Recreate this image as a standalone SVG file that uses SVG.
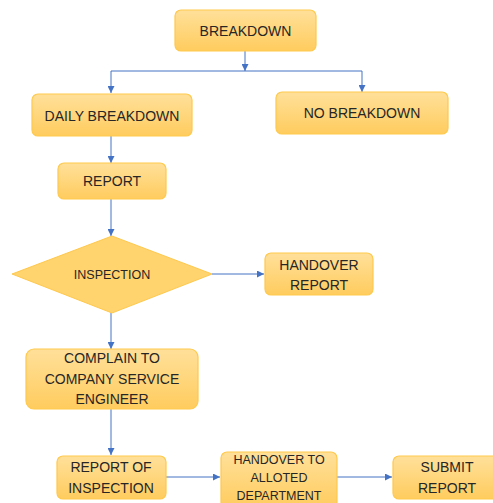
<svg xmlns="http://www.w3.org/2000/svg" width="493" height="503" viewBox="0 0 493 503">
<defs>
<linearGradient id="g" x1="0" y1="0" x2="0" y2="1">
<stop offset="0" stop-color="#FFE09A"/>
<stop offset="1" stop-color="#FFCC5E"/>
</linearGradient>
<marker id="ah" viewBox="0 0 10 10" refX="10" refY="5" markerWidth="7" markerHeight="7" markerUnits="userSpaceOnUse" orient="auto">
<path d="M0,0 L10,5 L0,10 z" fill="#4472C4"/>
</marker>
<style>
.box{fill:url(#g);stroke:#FFC94D;stroke-width:1.2}
.t{font-family:"Liberation Sans",Arial,sans-serif;font-size:14px;fill:#262626;text-anchor:middle}
.c{fill:none;stroke:#4472C4;stroke-width:1}
</style>
</defs>
<rect width="493" height="503" fill="#ffffff"/>
<g id="connectors">
<path class="c" d="M245,51 V71" marker-end="url(#ah)"/>
<path class="c" d="M111,71 H362"/>
<path class="c" d="M111,71 V93" marker-end="url(#ah)"/>
<path class="c" d="M362,71 V92" marker-end="url(#ah)"/>
<path class="c" d="M111,136 V163" marker-end="url(#ah)"/>
<path class="c" d="M111,199 V236" marker-end="url(#ah)"/>
<path class="c" d="M212,274 H264" marker-end="url(#ah)"/>
<path class="c" d="M111,313 V349" marker-end="url(#ah)"/>
<path class="c" d="M111,409 V455" marker-end="url(#ah)"/>
<path class="c" d="M166,477 H220" marker-end="url(#ah)"/>
<path class="c" d="M337,477 H392" marker-end="url(#ah)"/>
</g>
<g id="breakdown">
<rect class="box" x="175" y="10" width="141" height="41" rx="6"/>
<text class="t" x="245.5" y="36">BREAKDOWN</text>
</g>
<g id="daily-breakdown">
<rect class="box" x="32" y="94" width="160" height="42" rx="6"/>
<text class="t" x="112" y="121">DAILY BREAKDOWN</text>
</g>
<g id="no-breakdown">
<rect class="box" x="276" y="92" width="172" height="42" rx="6"/>
<text class="t" x="362" y="118">NO BREAKDOWN</text>
</g>
<g id="report">
<rect class="box" x="58" y="163" width="108" height="36" rx="6"/>
<text class="t" x="112" y="186">REPORT</text>
</g>
<g id="inspection">
<polygon points="112,236 212,274 112,313 12,274" fill="#FFD36E" stroke="#FFC94D" stroke-width="1"/>
<text class="t" x="112" y="279" style="font-size:12.5px">INSPECTION</text>
</g>
<g id="handover-report">
<rect class="box" x="265" y="253" width="108" height="42" rx="6"/>
<text class="t" x="319" y="270">HANDOVER</text>
<text class="t" x="319" y="290">REPORT</text>
</g>
<g id="complain">
<rect class="box" x="26" y="349" width="172" height="60" rx="8"/>
<text class="t" x="112" y="363">COMPLAIN TO</text>
<text class="t" x="112" y="384">COMPANY SERVICE</text>
<text class="t" x="112" y="404">ENGINEER</text>
</g>
<g id="report-of-inspection">
<rect class="box" x="57" y="456" width="109" height="43" rx="6"/>
<text class="t" x="111" y="472">REPORT OF</text>
<text class="t" x="111" y="493">INSPECTION</text>
</g>
<g id="handover-alloted">
<rect class="box" x="221" y="452" width="116" height="56" rx="6"/>
<text class="t" x="279" y="464" style="font-size:12.5px">HANDOVER TO</text>
<text class="t" x="279" y="482" style="font-size:12.5px">ALLOTED</text>
<text class="t" x="279" y="500" style="font-size:12.5px">DEPARTMENT</text>
</g>
<g id="submit-report">
<rect class="box" x="393" y="456" width="106" height="43" rx="6"/>
<text class="t" x="447" y="472">SUBMIT</text>
<text class="t" x="447" y="493">REPORT</text>
</g>
</svg>
